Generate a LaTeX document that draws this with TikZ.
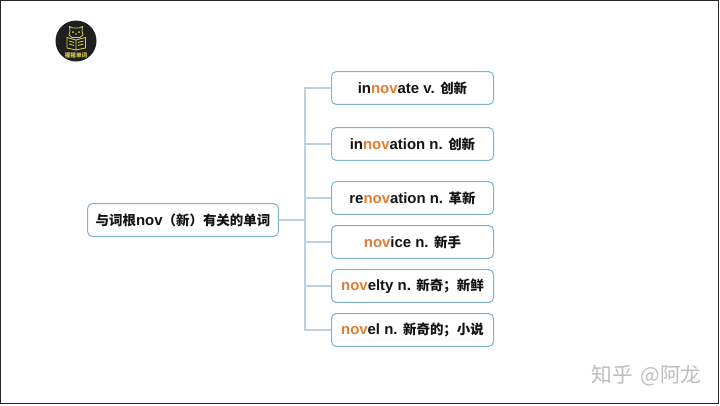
\documentclass[tikz,border=0pt]{standalone}
\usepackage{fontspec}
\setmainfont{Liberation Sans}
\newfontfamily\cjk{Noto Sans CJK SC}
\definecolor{edgeblue}{HTML}{7FB4CE}
\definecolor{linkblue}{HTML}{BCD0E2}
\definecolor{rootorange}{HTML}{DE7F35}
\definecolor{logoyellow}{HTML}{D8CF4A}
\newcommand{\nv}[1]{\textcolor{rootorange}{#1}}
\newcommand{\zh}[1]{{\fontsize{10.1pt}{12pt}\cjk\bfseries #1}}
\tikzset{
  x=0.75pt,y=-0.75pt,
  wordbox/.style={draw=edgeblue,line width=0.75pt,rounded corners=3.5pt,fill=white,minimum width=121.5pt,minimum height=24.6pt,inner sep=0pt,font=\fontsize{11.2pt}{12pt}\selectfont\bfseries,text=black!92},
  rootbox/.style={wordbox,minimum width=143pt},
  link/.style={draw=linkblue,line width=1pt},
  frame/.style={draw=black!85,line width=0.8pt},
  logoline/.style={draw=logoyellow,line width=0.6pt,line join=round},
}
\begin{document}
\begin{tikzpicture}
\useasboundingbox (0,0) rectangle (720,405);
\draw[frame] (0.4,0.6) rectangle (718.6,403.4);
% logo
\fill[black!88] (76,41) circle (20.5);
\draw[logoline] (70,31) -- (69.5,26.5) -- (73,28) -- (79,28) -- (82.5,26.5) -- (82,31) -- (83,35) -- (80,37.5) -- (72,37.5) -- (69,35) -- cycle;
\fill[logoyellow] (73,32) circle (1) (79,32) circle (1) (76,34) circle (0.8);
\draw[logoline] (67,37.5) -- (76,40) -- (85.5,37.5) -- (85.5,48) -- (76,50) -- (67,48) -- cycle (76,40) -- (76,50)
  (69,41) -- (74,42.5) (69,44) -- (74,45.5) (78,42.5) -- (83.5,41) (78,45.5) -- (83.5,44);
\node[text=logoyellow,font=\fontsize{4.2pt}{5pt}\cjk\bfseries,inner sep=0pt] (logotext) at (76,55) {猩猩单词};
% nodes
\node[rootbox] (root) at (183,220) {\zh{与词根}nov\zh{（新）有关的单词}};
\node[wordbox] (w1) at (412.5,88) {in\nv{nov}ate v. \zh{创新}};
\node[wordbox] (w2) at (412.5,144) {in\nv{nov}ation n. \zh{创新}};
\node[wordbox] (w3) at (412.5,198) {re\nv{nov}ation n. \zh{革新}};
\node[wordbox] (w4) at (412.5,242) {\nv{nov}ice n. \zh{新手}};
\node[wordbox] (w5) at (412.5,286) {\nv{nov}elty n. \zh{新奇；新鲜}};
\node[wordbox] (w6) at (412.5,330) {\nv{nov}el n. \zh{新奇的；小说}};
% connectors
\coordinate (trunk) at (305,220);
\draw[link] (root.east) -- (trunk);
\draw[link] (w1.west) -| (trunk) (w2.west) -| (trunk) (w3.west) -| (trunk) (w4.west) -| (trunk) (w5.west) -| (trunk) (w6.west) -| (trunk);
% watermark
\node[text=black!26,font=\fontsize{15.5pt}{18pt}\cjk,inner sep=0pt,anchor=center] (mark) at (646.5,375.5) {知乎\hspace{6pt}@阿龙};
\end{tikzpicture}
\end{document}
